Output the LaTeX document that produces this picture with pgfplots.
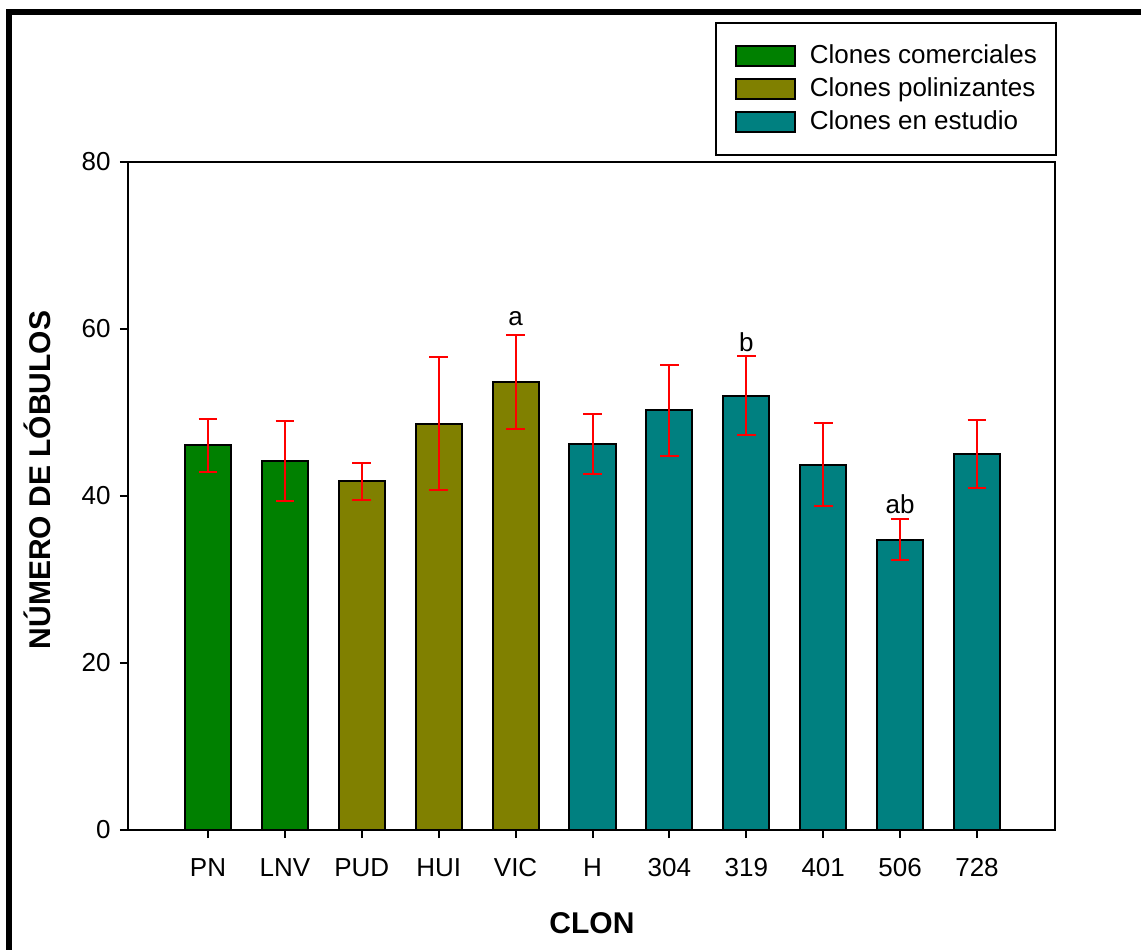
\documentclass[border=0pt]{standalone}
\usepackage{fontspec}
\setmainfont{Liberation Sans}
\usepackage{pgfplots}
\pgfplotsset{compat=1.18}
\usepackage{pgfplotstable}
\definecolor{cgreen}{RGB}{0,128,0}
\definecolor{colive}{RGB}{128,128,0}
\definecolor{cteal}{RGB}{0,128,128}
\pgfplotstableread{
x y e
0 46.05 3.17
1 44.21 4.81
}\comerciales
\pgfplotstableread{
x y e
2 41.76 2.24
3 48.68 7.97
4 53.65 5.59
}\polinizantes
\pgfplotstableread{
x y e
5 46.27 3.60
6 50.28 5.45
7 52.03 4.77
8 43.77 4.97
9 34.78 2.48
10 45.05 4.09
}\estudio
\pgfplotstableread{
x y e
0 46.05 3.17
1 44.21 4.81
2 41.76 2.24
3 48.68 7.97
4 53.65 5.59
5 46.27 3.60
6 50.28 5.45
7 52.03 4.77
8 43.77 4.97
9 34.78 2.48
10 45.05 4.09
}\todos
\begin{document}
\begin{tikzpicture}
\path[use as bounding box] (-64pt,-59.5pt) rectangle (506.5pt,415pt);
\begin{scope}
\clip (-64pt,-59.5pt) rectangle (506.5pt,415pt);
\draw[line width=3pt, line join=miter] (-59.5pt,-80pt) -- (-59.5pt,409pt) -- (540pt,409pt);
\end{scope}
\begin{axis}[
  scale only axis, width=463.5pt, height=334pt,
  at={(0,0)}, anchor=south west,
  xmin=-1.04, xmax=11.014, ymin=0, ymax=80,
  ytick={0,20,40,60,80},
  xtick={0,...,10},
  xticklabels={PN,LNV,PUD,HUI,VIC,H,304,319,401,506,728},
  tick align=outside, tick pos=left,
  major tick length=4pt,
  axis line style={line width=1pt},
  every tick/.style={black, line width=1pt},
  /pgf/number format/assume math mode=true,
  tick label style={font=\fontsize{13}{15.6}\selectfont},
  yticklabel style={anchor=east, inner sep=0pt, xshift=-4.5pt},
  xticklabel style={anchor=center, inner sep=0pt, yshift=-15pt},
  xlabel={\bfseries CLON},
  ylabel={\bfseries NÚMERO DE LÓBULOS},
  label style={font=\fontsize{15}{18}\selectfont},
  xlabel style={at={(axis description cs:0.5005,-0.1392)}, anchor=center},
  ylabel style={at={(axis description cs:-0.0982,0.524)}, anchor=center},
  legend cell align=left,
  legend style={at={(0.6335,1.2096)}, anchor=north west, draw=black, line width=1pt,
    font=\fontsize{13}{15.6}\selectfont,
    inner xsep=9.35pt, inner ysep=8.25pt, row sep=0pt, column sep=7pt,
    nodes={inner xsep=0pt, inner ysep=0pt, minimum height=16.5pt, text depth=0.15em}},
  legend image code/.code={\draw[#1, line width=1pt] (0pt,-5pt) rectangle (29.5pt,5pt);},
]
\addplot[ybar, bar width=0.6, bar shift=0pt, fill=cgreen, draw=black, line width=1pt] table[x=x, y=y] {\comerciales};
\addlegendentry{Clones comerciales}
\addplot[ybar, bar width=0.6, bar shift=0pt, fill=colive, draw=black, line width=1pt] table[x=x, y=y] {\polinizantes};
\addlegendentry{Clones polinizantes}
\addplot[ybar, bar width=0.6, bar shift=0pt, fill=cteal, draw=black, line width=1pt] table[x=x, y=y] {\estudio};
\addlegendentry{Clones en estudio}
\addplot[forget plot, draw=none, mark=none, red,
  error bars/.cd, y dir=both, y explicit,
  error bar style={draw=red, line width=1pt},
  error mark options={draw=red, line width=1pt, mark size=4.65pt, rotate=90}]
  table[x=x, y=y, y error=e] {\todos};
\node[anchor=base, font=\fontsize{13}{15.6}\selectfont, inner sep=0pt] at (axis cs:4,60.4) {a};
\node[anchor=base, font=\fontsize{13}{15.6}\selectfont, inner sep=0pt] at (axis cs:7,57.25) {b};
\node[anchor=base, font=\fontsize{13}{15.6}\selectfont, inner sep=0pt] at (axis cs:9,37.95) {ab};
\end{axis}
\end{tikzpicture}
\end{document}
